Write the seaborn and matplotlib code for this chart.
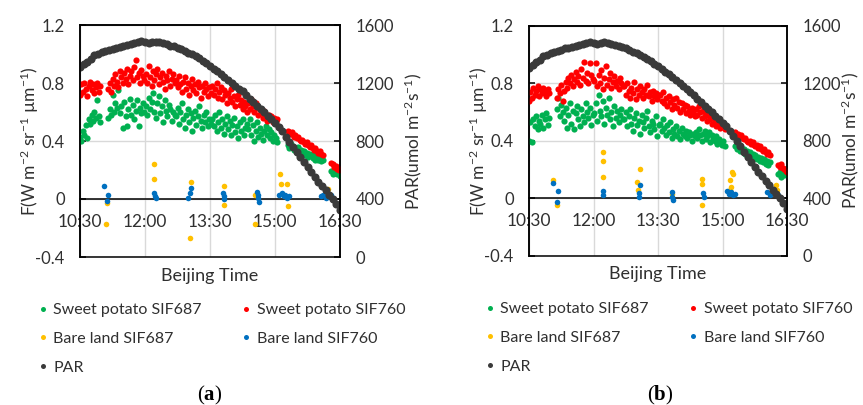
import matplotlib
matplotlib.use("Agg")
import matplotlib.pyplot as plt
import seaborn as sns
from matplotlib.lines import Line2D

# ── Data ─────────────────────────────────────────────────────────────────────
# time in minutes after 10:30 (Beijing Time)
x_ticks = [0, 90, 180, 270, 360]
x_labels = ["10:30", "12:00", "13:30", "15:00", "16:30"]
f_ticks = [-0.4, 0, 0.4, 0.8, 1.2]
f_labels = ["-0.4", "0", "0.4", "0.8", "1.2"]
par_ticks = [0, 400, 800, 1200, 1600]

sp_time = [0, 2, 4, 6, 8, 10, 12, 14, 16, 18, 20, 22, 24, 26, 28,
           39, 41, 43, 45, 47, 49, 51, 53, 55, 57, 59, 61, 63, 65, 67, 69, 71, 73, 75, 77, 79, 81, 83, 85, 87, 89,
           91, 93, 95, 97, 99, 101, 103, 105, 107, 109, 111, 113, 115, 117, 119, 121, 123, 125, 127, 129, 131,
           133, 135, 137, 139, 141, 143, 145, 147, 149, 151, 153, 155, 157, 159, 161, 163, 165, 167, 169, 171,
           173, 175, 177, 179, 181,
           183, 185, 187, 189, 191, 193, 195, 197, 199, 201, 203, 205, 207, 209, 211, 213, 215, 217, 219, 221,
           223, 225, 227, 229, 231,
           233, 235, 237, 239, 241, 243, 245, 247, 249, 251, 253, 255, 257, 259, 261, 263, 265, 267, 269, 271, 273,
           288, 290, 292, 294, 296, 298, 300, 302, 304, 306, 308, 310, 312, 314, 316, 318, 320, 322, 324, 326,
           328, 330, 332, 334, 336,
           348, 350, 352, 354, 356, 358, 360]

# panel (a)
a_sp760 = [0.72, 0.79, 0.74, 0.80, 0.76, 0.71, 0.78, 0.81, 0.75, 0.79, 0.73, 0.77, 0.80, 0.74, 0.78,
           0.76, 0.80, 0.74, 0.83, 0.78, 0.86, 0.81, 0.77, 0.88, 0.84, 0.80, 0.87, 0.83, 0.90, 0.79, 0.85,
           0.88, 0.82, 0.91, 0.96, 0.84, 0.87, 0.80, 0.89, 0.85, 0.82,
           0.86, 0.80, 0.92, 0.84, 0.78, 0.88, 0.82, 0.86, 0.90, 0.79, 0.84, 0.87, 0.81, 0.76, 0.85, 0.82,
           0.88, 0.78, 0.83, 0.86, 0.80,
           0.82, 0.77, 0.85, 0.79, 0.74, 0.81, 0.84, 0.76, 0.80, 0.72, 0.78, 0.83, 0.75, 0.79, 0.73, 0.81,
           0.77, 0.70, 0.78, 0.74, 0.80, 0.76, 0.71, 0.77, 0.73,
           0.78, 0.72, 0.76, 0.80, 0.70, 0.74, 0.77, 0.69, 0.75, 0.72, 0.66, 0.73, 0.70, 0.76, 0.67, 0.71,
           0.64, 0.69, 0.72, 0.65, 0.68, 0.62, 0.67, 0.64, 0.60,
           0.66, 0.62, 0.69, 0.64, 0.60, 0.66, 0.63, 0.58, 0.62, 0.59, 0.56, 0.61, 0.57, 0.54, 0.58, 0.55,
           0.57, 0.53, 0.56, 0.54, 0.55,
           0.47, 0.46, 0.45, 0.46, 0.43, 0.44, 0.42, 0.43, 0.41, 0.40, 0.41, 0.39, 0.38, 0.39, 0.37, 0.36,
           0.37, 0.35, 0.34, 0.35, 0.33, 0.32, 0.33, 0.31, 0.30,
           0.25, 0.24, 0.22, 0.23, 0.21, 0.20, 0.21]
a_sp687 = [0.43, 0.40, 0.47, 0.44, 0.51, 0.42, 0.55, 0.52, 0.58, 0.54, 0.60, 0.56, 0.68, 0.57, 0.53,
           0.56, 0.62, 0.58, 0.72, 0.60, 0.66, 0.63, 0.75, 0.59, 0.64, 0.49, 0.67, 0.57, 0.50, 0.62, 0.69,
           0.58, 0.65, 0.55, 0.61, 0.68, 0.50, 0.63, 0.59, 0.66, 0.60,
           0.64, 0.58, 0.70, 0.62, 0.67, 0.73, 0.60, 0.56, 0.66, 0.71, 0.59, 0.64, 0.53, 0.68, 0.61, 0.57,
           0.65, 0.62, 0.54, 0.60, 0.58,
           0.57, 0.63, 0.52, 0.60, 0.66, 0.55, 0.49, 0.58, 0.62, 0.53, 0.59, 0.47, 0.56, 0.61, 0.51, 0.57,
           0.64, 0.54, 0.49, 0.58, 0.53, 0.60, 0.50, 0.55, 0.52,
           0.55, 0.50, 0.58, 0.47, 0.53, 0.60, 0.49, 0.55, 0.45, 0.52, 0.57, 0.48, 0.54, 0.44, 0.51, 0.56,
           0.46, 0.50, 0.42, 0.53, 0.47, 0.55, 0.44, 0.49, 0.52,
           0.48, 0.55, 0.44, 0.51, 0.40, 0.47, 0.53, 0.43, 0.49, 0.45, 0.41, 0.47, 0.50, 0.44, 0.48, 0.42,
           0.46, 0.40, 0.44, 0.42, 0.39,
           0.37, 0.35, 0.38, 0.36, 0.34, 0.35, 0.33, 0.36, 0.32, 0.34, 0.31, 0.33, 0.30, 0.32, 0.29, 0.31,
           0.30, 0.28, 0.30, 0.27, 0.29, 0.27, 0.28, 0.26, 0.27,
           0.19, 0.17, 0.20, 0.18, 0.17, 0.19, 0.16]
a_bl687_t = [35.6, 37.5, 102, 103, 152, 154, 199, 199, 242, 242, 277, 278, 284, 286, 288, 343, 345]
a_bl687 = [-0.17, -0.03, 0.24, 0.14, -0.27, 0.12, 0.09, -0.04, -0.17, 0.03, 0.17, 0.105, 0.02, 0.10, -0.05,
           0.07, 0.03]
a_bl760_t = [33.7, 37, 39.2, 103, 104, 105, 150, 152, 154, 198, 199, 200, 245, 246, 247, 248,
             276, 279, 282, 284, 287, 290, 333, 337, 341, 345, 348]
a_bl760 = [0.087, -0.016, 0.03, 0.04, 0.02, 0.01, 0.007, 0.04, 0.076, 0.04, 0.02, 0.0, 0.05, 0.03, 0.01, -0.02,
           0.03, 0.04, 0.02, 0.03, 0.01, 0.02, 0.02, 0.03, 0.01, 0.02, 0.03]

# panel (b)
b_sp760 = [0.68, 0.74, 0.70, 0.77, 0.72, 0.75, 0.78, 0.71, 0.76, 0.73, 0.77, 0.74, 0.71, 0.76, 0.73,
           0.70, 0.76, 0.73, 0.79, 0.68, 0.75, 0.81, 0.77, 0.84, 0.80, 0.86, 0.78, 0.83, 0.88, 0.81, 0.85,
           0.79, 0.90, 0.84, 0.95, 0.82, 0.87, 0.80, 0.94, 0.86, 0.83,
           0.82, 0.94, 0.78, 0.86, 0.80, 0.89, 0.76, 0.84, 0.92, 0.79, 0.83, 0.87, 0.77, 0.81, 0.85, 0.78,
           0.82, 0.76, 0.84, 0.80, 0.78,
           0.78, 0.72, 0.80, 0.75, 0.70, 0.77, 0.73, 0.81, 0.69, 0.76, 0.72, 0.78, 0.74, 0.70, 0.76, 0.72,
           0.79, 0.71, 0.74, 0.68, 0.75, 0.71, 0.73, 0.69, 0.72,
           0.72, 0.68, 0.74, 0.66, 0.70, 0.64, 0.71, 0.67, 0.62, 0.69, 0.65, 0.70, 0.63, 0.67, 0.60, 0.66,
           0.62, 0.65, 0.59, 0.64, 0.61, 0.58, 0.63, 0.60, 0.57,
           0.62, 0.58, 0.64, 0.60, 0.56, 0.61, 0.57, 0.59, 0.54, 0.58, 0.55, 0.52, 0.56, 0.53, 0.50, 0.54,
           0.51, 0.49, 0.52, 0.50, 0.48,
           0.46, 0.44, 0.45, 0.43, 0.44, 0.42, 0.41, 0.42, 0.40, 0.39, 0.40, 0.38, 0.39, 0.37, 0.36, 0.37,
           0.35, 0.36, 0.34, 0.33, 0.34, 0.32, 0.31, 0.32, 0.30,
           0.23, 0.22, 0.24, 0.21, 0.20, 0.19, 0.18]
b_sp687 = [0.40, 0.53, 0.39, 0.55, 0.50, 0.57, 0.48, 0.54, 0.52, 0.58, 0.49, 0.55, 0.59, 0.51, 0.56,
           0.62, 0.70, 0.57, 0.65, 0.60, 0.54, 0.63, 0.49, 0.58, 0.66, 0.52, 0.61, 0.48, 0.59, 0.64, 0.55,
           0.50, 0.62, 0.57, 0.53, 0.66, 0.60, 0.56, 0.63, 0.51, 0.58,
           0.59, 0.66, 0.54, 0.72, 0.61, 0.57, 0.68, 0.52, 0.63, 0.58, 0.70, 0.55, 0.60, 0.50, 0.64, 0.56,
           0.61, 0.53, 0.58, 0.62, 0.55,
           0.55, 0.60, 0.50, 0.57, 0.62, 0.52, 0.47, 0.56, 0.59, 0.51, 0.54, 0.45, 0.58, 0.53, 0.49, 0.56,
           0.61, 0.50, 0.46, 0.54, 0.52, 0.48, 0.57, 0.43, 0.51,
           0.52, 0.47, 0.55, 0.49, 0.44, 0.51, 0.46, 0.53, 0.42, 0.48, 0.45, 0.50, 0.43, 0.47, 0.41, 0.49,
           0.45, 0.43, 0.47, 0.42, 0.46, 0.44, 0.40, 0.45, 0.43,
           0.46, 0.42, 0.48, 0.44, 0.40, 0.45, 0.47, 0.41, 0.43, 0.46, 0.39, 0.44, 0.42, 0.40, 0.43, 0.38,
           0.41, 0.39, 0.37, 0.40, 0.36,
           0.36, 0.34, 0.37, 0.33, 0.35, 0.32, 0.34, 0.31, 0.33, 0.30, 0.32, 0.29, 0.31, 0.28, 0.30, 0.27,
           0.29, 0.26, 0.28, 0.25, 0.27, 0.24, 0.26, 0.23, 0.25,
           0.17, 0.18, 0.15, 0.17, 0.16, 0.18, 0.16]
b_bl687_t = [34, 38.6, 103, 103.5, 103.8, 151, 152, 155, 199, 241, 241.5, 242, 280, 281, 282, 283, 284, 344, 346]
b_bl687 = [0.125, -0.05, 0.32, 0.256, 0.15, 0.11, 0.056, 0.20, 0.03, 0.13, 0.097, -0.05,
           0.06, 0.126, 0.08, 0.18, 0.17, 0.09, 0.06]
b_bl760_t = [34, 38.6, 40, 103.5, 103.7, 153, 154, 155, 199.5, 200, 200.5, 243, 243.5,
             276, 279, 282, 285, 288, 332, 336, 340, 344, 347]
b_bl760 = [0.107, -0.03, 0.049, 0.02, 0.05, 0.01, 0.037, 0.09, 0.01, 0.04, -0.014, 0.037, 0.01,
           0.05, 0.03, 0.04, 0.02, 0.03, 0.04, 0.02, 0.05, 0.03, 0.02]

# PAR (same sensor for both panels)
par_time = [0, 5, 10, 15, 20, 25, 30, 35, 40, 45, 50, 55, 60, 65, 70, 75, 80, 85, 90, 95,
            100, 105, 110, 115, 120, 125, 130, 135, 140, 145, 150, 155, 160, 165, 170, 175, 180, 185, 190, 195,
            200, 205, 210, 215, 220, 225, 230, 235, 240, 245, 250, 255, 260, 265, 270, 275, 280, 285, 290, 295,
            300, 305, 310, 315, 320, 325, 330, 335, 340, 345, 350, 355, 360]
par = [1310, 1330, 1348, 1365, 1390, 1398, 1412, 1418, 1428, 1436, 1444, 1450, 1456, 1462, 1468, 1474, 1482,
       1490, 1482, 1474, 1480, 1486, 1482, 1474, 1466, 1458, 1452, 1444, 1432, 1422, 1410, 1398, 1384, 1370,
       1354, 1336, 1318, 1300, 1281, 1262, 1244, 1224, 1203, 1182, 1162, 1142, 1116, 1092, 1068, 1044, 1020,
       998, 974, 950, 926, 900, 866, 830, 795, 760, 725, 690, 655, 620, 585, 552, 520, 490, 460, 430, 398,
       365, 325]

labels = ["Sweet potato SIF687", "Bare land SIF687", "PAR", "Sweet potato SIF760", "Bare land SIF760"]

# ── Style ────────────────────────────────────────────────────────────────────
GREEN, RED, YELLOW, BLUE, DARK = "#00B050", "#FF0000", "#FFC000", "#0070C0", "#3A3A3A"
GRID = "#D9D9D9"
TXT = "#303030"

sns.set_theme(style="white")
plt.rcParams["font.family"] = ["Lato", "DejaVu Sans"]
plt.rcParams["mathtext.fontset"] = "custom"
plt.rcParams["mathtext.rm"] = "Lato"
plt.rcParams["mathtext.bf"] = "Liberation Serif:bold"
plt.rcParams["mathtext.default"] = "regular"

fig = plt.figure(figsize=(8.63, 4.05), dpi=100)
W, H = 863, 405


def px_axes(left, top, right, bottom):
    return fig.add_axes([left / W, 1 - bottom / H, (right - left) / W, (bottom - top) / H])


def draw_panel(ax, sp687, sp760, bl687_t, bl687, bl760_t, bl760, par_label_x):
    ax.set_xlim(0, 360)
    ax.set_ylim(-0.4, 1.2)
    ax.grid(True, color=GRID, linewidth=1.0)
    ax.set_axisbelow(True)

    sns.scatterplot(x=sp_time, y=sp687, ax=ax, color=GREEN, s=20, linewidth=0, zorder=3)
    sns.scatterplot(x=sp_time, y=sp760, ax=ax, color=RED, s=20, linewidth=0, zorder=3)
    sns.scatterplot(x=bl687_t, y=bl687, ax=ax, color=YELLOW, s=16, linewidth=0, zorder=4)
    sns.scatterplot(x=bl760_t, y=bl760, ax=ax, color=BLUE, s=16, linewidth=0, zorder=4)

    ax.set_xticks(x_ticks)
    ax.set_xticklabels(x_labels)
    ax.set_yticks(f_ticks)
    ax.set_yticklabels(f_labels)
    ax.spines["bottom"].set_position(("data", 0))
    ax.tick_params(axis="x", direction="in", length=5, width=1.1, color="black",
                   pad=11, labelsize=12.5, labelcolor=TXT)
    ax.tick_params(axis="y", direction="in", length=4, width=1.1, color="black",
                   pad=11, labelsize=12, labelcolor=TXT)
    ax.set_ylabel("F(W m$^{-2}$ sr$^{-1}$ µm$^{-1}$)", fontsize=12.5, color=TXT)
    ax.yaxis.set_label_coords(-0.15, 0.5)
    ax.text(0.5, -0.08, "Beijing Time", transform=ax.transAxes, ha="center", va="center",
            fontsize=13, color=TXT)

    ax2 = ax.twinx()
    sns.scatterplot(x=par_time, y=par, ax=ax2, color=DARK, s=34, linewidth=0)
    ax2.set_ylim(0, 1600)
    ax2.set_yticks(par_ticks)
    ax2.grid(False)
    ax2.tick_params(axis="y", direction="in", length=4, width=1.1, color="black",
                    pad=11, labelsize=12, labelcolor=TXT)
    ax2.set_ylabel("PAR(umol m$^{-2}$s$^{-1}$)", fontsize=12.5, color=TXT)
    ax2.yaxis.set_label_coords(par_label_x, 0.5)

    for a in (ax, ax2):
        for sp in a.spines.values():
            sp.set_color("black")
            sp.set_linewidth(1.1)
    return ax2


def add_legend(x_px, y_px):
    colors = [GREEN, YELLOW, DARK, RED, BLUE]
    handles = [Line2D([], [], marker="o", linestyle="", color=c, markersize=3.6, markeredgewidth=0)
               for c in colors]
    fig.legend(handles, labels, loc="upper left", bbox_to_anchor=(x_px / W, 1 - y_px / H), ncol=2,
               frameon=False, fontsize=11.5, handlelength=0.6, handletextpad=0.35, columnspacing=2.5,
               labelspacing=0.92, borderpad=0, borderaxespad=0, labelcolor=TXT)


ax_a = px_axes(80, 25, 340, 257)
draw_panel(ax_a, a_sp687, a_sp760, a_bl687_t, a_bl687, a_bl760_t, a_bl760, 1.24)
ax_b = px_axes(529, 26, 787, 255.5)
draw_panel(ax_b, b_sp687, b_sp760, b_bl687_t, b_bl687, b_bl760_t, b_bl760, 1.205)

add_legend(38, 303)
add_legend(485, 302)

fig.text(210 / W, 1 - 395 / H, r"($\mathbf{a}$)", ha="center", va="center", fontsize=15,
         family="Liberation Serif", color="black")
fig.text(660 / W, 1 - 395 / H, r"($\mathbf{b}$)", ha="center", va="center", fontsize=15,
         family="Liberation Serif", color="black")

fig.savefig("out.png", dpi=100)
